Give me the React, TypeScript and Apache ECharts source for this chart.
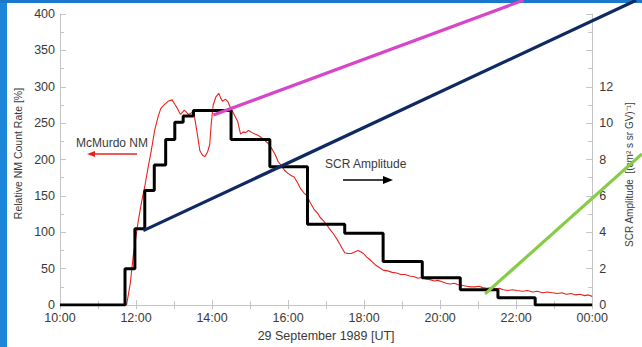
import React, { useEffect, useRef } from 'react';
import * as echarts from 'echarts';

// ---- data (hours UT on 29 Sep 1989; 24 = 00:00 next day) ----
const stepTimes = [10, 11.71, 11.97, 12.23, 12.48, 12.78, 13.02, 13.24, 13.51, 14.5, 15.52, 16.51, 17.49, 18.5, 19.53, 20.53, 21.52, 22.5, 24];
const stepValues = [0, 2.0, 4.2, 6.3, 7.7, 9.1, 10.05, 10.4, 10.7, 9.1, 7.6, 4.45, 3.95, 2.4, 1.5, 0.85, 0.4, 0, 0];

const nmTimes = [
  11.75, 11.85, 11.93, 12.05, 12.14, 12.23, 12.32, 12.4, 12.49, 12.57, 12.65, 12.74, 12.84, 12.95, 13.02, 13.08, 13.17, 13.27, 13.38, 13.45, 13.51,
  13.56, 13.6, 13.68, 13.75, 13.81, 13.88, 13.94, 13.98, 14.03, 14.1, 14.18, 14.23, 14.28, 14.35, 14.41, 14.48, 14.54, 14.6, 14.67, 14.75,
  14.82, 14.88, 14.96, 15.05, 15.13, 15.22, 15.3, 15.39, 15.48, 15.57, 15.66, 15.74, 15.82, 15.91, 16.0, 16.08, 16.16, 16.25, 16.33, 16.42,
  16.5, 16.58, 16.68, 16.78, 16.85, 16.93, 17.02, 17.1, 17.19, 17.28, 17.36, 17.42, 17.49, 17.57, 17.66, 17.75, 17.84, 17.92, 18.0, 18.07,
  18.14, 18.22, 18.3, 18.39, 18.5, 18.62, 18.74, 18.86, 18.97, 19.08, 19.2, 19.32, 19.42, 19.51, 19.62, 19.73, 19.85, 19.94, 20.05, 20.16,
  20.26, 20.37, 20.48, 20.6, 20.7, 20.8, 20.92, 21.02, 21.12, 21.23, 21.35, 21.46, 21.56, 21.66, 21.78, 21.9, 22.02, 22.17, 22.3, 22.43,
  22.56, 22.69, 22.82, 22.95, 23.08, 23.2, 23.32, 23.45, 23.57, 23.68, 23.8, 23.9, 24.0,
];
const nmValues = [
  0, 30, 69, 113, 140, 163, 190, 212, 240, 257, 270, 275, 280, 282, 276, 271, 262, 268, 262, 264, 266,
  252, 239, 212, 206, 204, 210, 221, 250, 275, 286, 291, 284, 280, 283, 280, 272, 266, 260, 253, 235,
  238, 237, 240, 237, 235, 233, 230, 226, 222, 215, 207, 197, 192, 185, 181, 178, 176, 168, 160, 154,
  150, 141, 132, 126, 120, 116, 110, 104, 98, 91, 84, 78, 72, 71, 71, 73, 75, 73, 70, 66,
  63, 59, 55, 52, 48, 47, 45, 44, 42, 42, 40, 39, 37, 38, 36, 35, 33, 34, 32, 30,
  29, 30, 28, 27, 26, 25, 25, 26, 24, 23, 24, 22, 23, 21, 20, 21, 20, 19, 20, 18,
  19, 17, 18, 17, 16, 17, 15, 16, 14, 15, 13, 14, 12,
];

// hand-drawn emphasis lines (data coordinates, they run off the plot)
const magentaLine = [[13.94, 264], [21.9, 418.5]];    // left-axis scale
const navyLine = [[12.14, 4.33], [24.8, 16.74]];      // right-axis scale
const greenLine = [[20.92, 0.92], [24.95, 8.46]];     // right-axis scale

const leftMin = 0, leftMax = 400, leftInterval = 50;
const rightMin = 0, rightMax = 16, rightInterval = 2, rightLabelMax = 12;
const xMin = 10, xMax = 24, xInterval = 2;

const W = 642, H = 347;
const G = { left: 60, right: 37, top: 14, bottom: 36 };

const FONT = "'Liberation Sans', Arial, Helvetica, sans-serif";
const TXT = '#3a3a3a';
const AXIS = '#c4c4c4';

export default function App() {
  const ref = useRef<HTMLDivElement>(null);
  useEffect(() => {
    if (!ref.current) return;
    const chart = echarts.init(ref.current, undefined, { renderer: 'svg' });
    const zip = (a: number[], b: number[]) => a.map((t, i) => [t, b[i]]);

    // overlay grid covering the whole canvas, with the same scales extended to the edges
    const plotW = W - G.left - G.right, plotH = H - G.top - G.bottom;
    const hx = plotW / (xMax - xMin);
    const uL = plotH / (leftMax - leftMin);
    const uR = plotH / (rightMax - rightMin);
    const ovX = { min: xMin - G.left / hx, max: xMax + G.right / hx };
    const ovL = { min: leftMin - G.bottom / uL, max: leftMax + G.top / uL };
    const ovR = { min: rightMin - G.bottom / uR, max: rightMax + G.top / uR };
    const hidden = { show: false, axisLine: { show: false }, axisTick: { show: false }, axisLabel: { show: false }, splitLine: { show: false } };

    chart.setOption({
      animation: false,
      backgroundColor: '#ffffff',
      textStyle: { fontFamily: FONT },
      grid: [
        { ...G, containLabel: false },
        { left: 0, right: 0, top: 0, bottom: 0, containLabel: false },
      ],
      xAxis: [
        {
          type: 'value', gridIndex: 0, min: xMin, max: xMax, interval: xInterval, position: 'bottom',
          name: '29 September 1989 [UT]', nameLocation: 'middle', nameGap: 19,
          nameTextStyle: { fontFamily: FONT, fontSize: 12.5, color: TXT },
          axisLine: { show: true, lineStyle: { color: AXIS, width: 1 } },
          axisTick: { show: true, inside: true, length: 5, lineStyle: { color: AXIS } },
          minorTick: { show: true, splitNumber: 2, length: 4, lineStyle: { color: AXIS } },
          splitLine: { show: false },
          axisLabel: {
            fontFamily: FONT, fontSize: 12.5, color: TXT, margin: 6,
            formatter: (v: number) => String(v % 24).padStart(2, '0') + ':00',
          },
        },
        {
          type: 'value', gridIndex: 0, min: xMin, max: xMax, interval: 1, position: 'top',
          axisLine: { show: true, lineStyle: { color: AXIS, width: 1 } },
          axisTick: { show: true, inside: true, length: 4, lineStyle: { color: AXIS } },
          axisLabel: { show: false }, splitLine: { show: false },
        },
        { type: 'value', gridIndex: 1, min: ovX.min, max: ovX.max, ...hidden },
      ],
      yAxis: [
        {
          type: 'value', gridIndex: 0, min: leftMin, max: leftMax, interval: leftInterval, position: 'left',
          name: 'Relative NM Count Rate [%]', nameLocation: 'middle', nameGap: 36, nameRotate: 90,
          nameTextStyle: { fontFamily: FONT, fontSize: 10.5, color: TXT, padding: [0, 0, 0, 12] },
          axisLine: { show: true, lineStyle: { color: AXIS, width: 1 } },
          axisTick: { show: true, inside: true, length: 6, lineStyle: { color: AXIS } },
          minorTick: { show: true, splitNumber: 2, length: 4, lineStyle: { color: AXIS } },
          splitLine: { show: false },
          axisLabel: { fontFamily: FONT, fontSize: 12.5, color: TXT, margin: 5 },
        },
        {
          type: 'value', gridIndex: 0, min: rightMin, max: rightMax, interval: rightInterval, position: 'right',
          name: 'SCR Amplitude  [(cm² s sr GV)⁻¹]', nameLocation: 'middle', nameGap: 22, nameRotate: 90,
          nameTextStyle: { fontFamily: FONT, fontSize: 10, color: TXT, padding: [0, 30, 0, 0] },
          axisLine: { show: true, lineStyle: { color: AXIS, width: 1 } },
          axisTick: { show: true, inside: true, length: 6, lineStyle: { color: AXIS } },
          minorTick: { show: true, splitNumber: 2, length: 4, lineStyle: { color: AXIS } },
          splitLine: { show: false },
          axisLabel: {
            fontFamily: FONT, fontSize: 12.5, color: TXT, margin: 7,
            formatter: (v: number) => (v > rightLabelMax ? '' : String(v)),
          },
        },
        { type: 'value', gridIndex: 1, min: ovL.min, max: ovL.max, ...hidden },
        { type: 'value', gridIndex: 1, min: ovR.min, max: ovR.max, ...hidden },
      ],
      series: [
        {
          name: 'McMurdo NM', type: 'line', xAxisIndex: 0, yAxisIndex: 0,
          data: zip(nmTimes, nmValues), showSymbol: false, symbol: 'none',
          lineStyle: { color: '#e8231f', width: 1.1 }, z: 2,
        },
        {
          name: 'SCR Amplitude', type: 'line', xAxisIndex: 0, yAxisIndex: 1, step: 'end',
          data: zip(stepTimes, stepValues), showSymbol: false, symbol: 'none',
          lineStyle: { color: '#000000', width: 3 }, z: 3,
        },
        {
          type: 'line', xAxisIndex: 2, yAxisIndex: 2, data: magentaLine,
          showSymbol: false, symbol: 'none', lineStyle: { color: '#d846c8', width: 3.2 }, z: 4,
        },
        {
          type: 'line', xAxisIndex: 2, yAxisIndex: 3, data: navyLine,
          showSymbol: false, symbol: 'none', lineStyle: { color: '#0f2a62', width: 3.2 }, z: 4,
        },
        {
          type: 'line', xAxisIndex: 2, yAxisIndex: 3, data: greenLine,
          showSymbol: false, symbol: 'none', lineStyle: { color: '#86cc48', width: 3.2 }, z: 4,
        },
      ],
      graphic: [
        { type: 'rect', z: 1, shape: { x: 0, y: 0, width: 7, height: H }, style: { fill: '#1b86da' } },
        { type: 'rect', z: 1, shape: { x: 0, y: 0, width: W, height: 3 }, style: { fill: '#1a78cc' } },
        { type: 'text', x: 76, y: 143, style: { text: 'McMurdo NM', fontFamily: FONT, fontSize: 12, fill: TXT, verticalAlign: 'middle' } },
        { type: 'line', shape: { x1: 93, y1: 154, x2: 137, y2: 154 }, style: { stroke: '#e8231f', lineWidth: 1.3 } },
        { type: 'polygon', shape: { points: [[87, 154], [95, 151], [95, 157]] }, style: { fill: '#e8231f' } },
        { type: 'text', x: 325, y: 164, style: { text: 'SCR Amplitude', fontFamily: FONT, fontSize: 12, fill: TXT, verticalAlign: 'middle' } },
        { type: 'line', shape: { x1: 343, y1: 180, x2: 384, y2: 180 }, style: { stroke: '#000', lineWidth: 1.5 } },
        { type: 'polygon', shape: { points: [[393, 180], [383, 176], [383, 184]] }, style: { fill: '#000' } },
      ],
    });
    return () => chart.dispose();
  }, []);
  return (
    <div style={{ position: 'fixed', left: 0, top: 0, width: W, height: H, background: '#fff' }}>
      <div ref={ref} style={{ width: W, height: H }} />
    </div>
  );
}
